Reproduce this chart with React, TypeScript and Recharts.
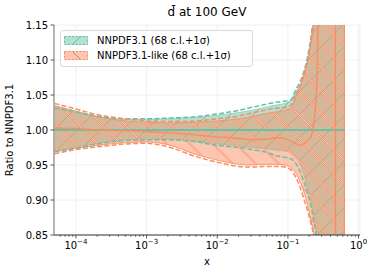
import React from 'react';
import { ComposedChart, Area, Line, XAxis, YAxis, CartesianGrid, Legend, ReferenceLine } from 'recharts';

// x grid (momentum fraction)
const X_VALUES = [5e-5, 1e-4, 2e-4, 5e-4, 1e-3, 2e-3, 5e-3, 1e-2, 2e-2, 3e-2, 5e-2, 7e-2, 0.09, 0.11, 0.13, 0.15, 0.17, 0.19, 0.21, 0.23, 0.26, 0.3, 0.4, 0.46, 0.48, 0.55, 0.63];

// NNPDF3.1 (green)
const G68_HI = [1.031, 1.025, 1.019, 1.015, 1.015, 1.016, 1.018, 1.021, 1.025, 1.028, 1.033, 1.036, 1.038, 1.042, 1.055, 1.065, 1.08, 1.1, 1.125, 1.155, 1.2, 1.4, 1.4, 1.4, 1.4, 1.4, 1.4];
const G68_LO = [0.971, 0.976, 0.981, 0.986, 0.987, 0.987, 0.984, 0.98, 0.977, 0.975, 0.973, 0.971, 0.97, 0.968, 0.962, 0.95, 0.935, 0.915, 0.9, 0.88, 0.84, 0.6, 0.6, 0.6, 0.6, 0.6, 0.6];
const G1S_HI = [1.032, 1.026, 1.02, 1.016, 1.016, 1.017, 1.019, 1.023, 1.028, 1.032, 1.037, 1.04, 1.041, 1.043, 1.058, 1.07, 1.085, 1.105, 1.13, 1.16, 1.21, 1.45, 1.45, 1.45, 1.45, 1.45, 1.45];
const G1S_LO = [0.969, 0.974, 0.98, 0.985, 0.986, 0.986, 0.983, 0.978, 0.975, 0.972, 0.968, 0.963, 0.961, 0.959, 0.952, 0.94, 0.925, 0.91, 0.893, 0.872, 0.83, 0.55, 0.55, 0.55, 0.55, 0.55, 0.55];
const G_CENTRAL = [1, 1, 1, 1, 1, 1, 1, 1, 1, 1, 1, 1, 1, 1, 1, 1, 1, 1, 1, 1, 1, 1, 1, 1, 1, 1, 1];

// NNPDF3.1-like (orange)
const O68_HI = [1.035, 1.027, 1.019, 1.013, 1.011, 1.01, 1.011, 1.013, 1.016, 1.019, 1.024, 1.026, 1.028, 1.031, 1.047, 1.062, 1.078, 1.098, 1.122, 1.15, 1.2, 1.5, 1.5, 1.5, 1.5, 1.5, 1.5];
const O68_LO = [0.969, 0.974, 0.978, 0.982, 0.983, 0.979, 0.965, 0.957, 0.951, 0.95, 0.951, 0.951, 0.95, 0.946, 0.938, 0.925, 0.91, 0.893, 0.873, 0.853, 0.8, 0.5, 0.5, 0.5, 0.5, 0.5, 0.5];
const O1S_HI = [1.038, 1.03, 1.022, 1.016, 1.013, 1.012, 1.013, 1.016, 1.02, 1.024, 1.029, 1.031, 1.032, 1.035, 1.05, 1.065, 1.082, 1.1, 1.125, 1.155, 1.21, 1.55, 1.55, 1.55, 1.55, 1.55, 1.55];
const O1S_LO = [0.966, 0.972, 0.976, 0.98, 0.981, 0.976, 0.962, 0.954, 0.948, 0.947, 0.948, 0.948, 0.947, 0.943, 0.932, 0.917, 0.9, 0.885, 0.868, 0.85, 0.8, 0.45, 0.45, 0.45, 0.45, 0.45, 0.45];
const O_CENTRAL = [1.003, 1.002, 1.0, 0.999, 0.998, 0.996, 0.993, 0.99, 0.988, 0.986, 0.987, 0.989, 0.988, 0.984, 0.98, 0.978, 0.981, 0.985, 0.99, 1.005, 1.08, 1.6, 2, 2, 0, 0, 0];

const MAJOR_TICKS = [1e-4, 1e-3, 1e-2, 1e-1, 1];
const MINOR_TICKS = [
  6e-5, 7e-5, 8e-5, 9e-5,
  2e-4, 3e-4, 4e-4, 5e-4, 6e-4, 7e-4, 8e-4, 9e-4,
  2e-3, 3e-3, 4e-3, 5e-3, 6e-3, 7e-3, 8e-3, 9e-3,
  2e-2, 3e-2, 4e-2, 5e-2, 6e-2, 7e-2, 8e-2, 9e-2,
  0.2, 0.3, 0.4, 0.5, 0.6, 0.7, 0.8, 0.9,
];
const X_TICKS = [...MAJOR_TICKS, ...MINOR_TICKS].sort((a, b) => a - b);
const Y_TICKS = [0.85, 0.9, 0.95, 1.0, 1.05, 1.1, 1.15];
const X_DOMAIN = [Math.pow(10, -4.31), Math.pow(10, 0.02)];

const GREEN = '#66c2a5';
const ORANGE = '#fc8d62';
const FONT = 'DejaVu Sans, Verdana, sans-serif';
const H = 23; // hatch cell size

const data = X_VALUES.map((x, i) => ({
  x,
  g68: [G68_LO[i], G68_HI[i]],
  o68: [O68_LO[i], O68_HI[i]],
  gsHi: G1S_HI[i],
  gsLo: G1S_LO[i],
  osHi: O1S_HI[i],
  osLo: O1S_LO[i],
  gC: G_CENTRAL[i],
  oC: O_CENTRAL[i],
}));

const XTick = (props: any) => {
  const { x, y, payload } = props;
  const v = payload.value;
  const e = Math.log10(v);
  const major = Math.abs(e - Math.round(e)) < 1e-6;
  if (!major) {
    return <line x1={x} x2={x} y1={y} y2={y + 2} stroke="#333" strokeWidth={0.6} />;
  }
  const exp = Math.round(e);
  return (
    <g>
      <line x1={x} x2={x} y1={y} y2={y + 3.5} stroke="#333" strokeWidth={0.8} />
      <text x={x} y={y + 13.5} textAnchor="middle" fontSize={10} fontFamily={FONT} fill="#000">
        <tspan>10</tspan>
        <tspan dy={-4.5} fontSize={7}>{exp === 0 ? '0' : '\u2212' + Math.abs(exp)}</tspan>
      </text>
    </g>
  );
};

const Swatch = ({ color, dir }: { color: string; dir: number }) => (
  <svg width={24} height={9} style={{ display: 'block' }}>
    <rect x={0.5} y={0.5} width={23} height={8} fill={color} fillOpacity={0.5} stroke={color} strokeWidth={1} strokeDasharray="2.5 1.2" />
    {dir > 0 ? (
      <line x1={9} y1={8} x2={16} y2={1} stroke="#8a9a90" strokeWidth={0.8} />
    ) : (
      <line x1={9} y1={1} x2={16} y2={8} stroke="#9a8070" strokeWidth={0.8} />
    )}
  </svg>
);

const LegendBox = () => (
  <div
    style={{
      position: 'relative',
      width: 193,
      height: 37,
      boxSizing: 'border-box',
      border: '1px solid #d9d9d9',
      borderRadius: 3,
      background: 'rgba(255,255,255,0.8)',
      fontFamily: FONT,
      fontSize: 10,
      color: '#000',
    }}
  >
    <div style={{ position: 'absolute', left: 3, top: 5 }}>
      <Swatch color={GREEN} dir={1} />
    </div>
    <div style={{ position: 'absolute', left: 36, top: 3, lineHeight: '13px', whiteSpace: 'nowrap' }}>NNPDF3.1 (68 c.l.+1σ)</div>
    <div style={{ position: 'absolute', left: 3, top: 20 }}>
      <Swatch color={ORANGE} dir={-1} />
    </div>
    <div style={{ position: 'absolute', left: 36, top: 18, lineHeight: '13px', whiteSpace: 'nowrap' }}>NNPDF3.1-like (68 c.l.+1σ)</div>
  </div>
);

const fwd = `M-1,1 L1,-1 M0,${H} L${H},0 M${H - 1},${H + 1} L${H + 1},${H - 1}`;
const back = `M-1,${H - 1} L1,${H + 1} M0,0 L${H},${H} M${H - 1},-1 L${H + 1},1`;

export default function App() {
  return (
    <div style={{ position: 'absolute', left: 0, top: 0, width: 374, height: 276, background: '#fff', overflow: 'hidden' }}>
      <svg width={0} height={0} style={{ position: 'absolute' }}>
        <defs>
          <pattern id="hatchG" patternUnits="userSpaceOnUse" width={H} height={H}>
            <rect width={H} height={H} fill={GREEN} fillOpacity={0.5} />
            <path d={fwd} stroke="#8f9c88" strokeWidth={0.7} />
          </pattern>
          <pattern id="hatchO" patternUnits="userSpaceOnUse" width={H} height={H}>
            <rect width={H} height={H} fill={ORANGE} fillOpacity={0.5} />
            <path d={back} stroke={ORANGE} strokeWidth={1.6} />
            <path d={back} stroke="#ffe9df" strokeWidth={0.6} />
          </pattern>
        </defs>
      </svg>
      <div style={{ position: 'absolute', left: 0, width: 414, top: 5, textAlign: 'center', fontFamily: FONT, fontSize: 12, lineHeight: '14px', color: '#000' }}>
        d̄ at 100 GeV
      </div>
      <div style={{ position: 'absolute', left: 0, width: 414, top: 255, textAlign: 'center', fontFamily: FONT, fontSize: 10, lineHeight: '13px', color: '#000' }}>
        x
      </div>
      <ComposedChart width={374} height={276} data={data} margin={{ top: 25, right: 14, left: 14, bottom: 0 }}>
        <CartesianGrid xAxisId="grid" stroke="#ececec" strokeWidth={0.8} />
        <XAxis
          xAxisId="grid"
          dataKey="x"
          type="number"
          scale="log"
          domain={X_DOMAIN}
          allowDataOverflow
          ticks={MAJOR_TICKS}
          hide
        />
        <XAxis
          dataKey="x"
          type="number"
          scale="log"
          domain={X_DOMAIN}
          allowDataOverflow
          ticks={X_TICKS}
          interval={0}
          minTickGap={0}
          tickSize={0}
          tickMargin={0}
          tickLine={false}
          tick={<XTick />}
          height={41}
          axisLine={{ stroke: '#333', strokeWidth: 1 }}
        />
        <YAxis
          type="number"
          domain={[0.85, 1.15]}
          allowDataOverflow
          ticks={Y_TICKS}
          tickFormatter={(v: number) => v.toFixed(2)}
          width={40}
          tickSize={3.5}
          tickMargin={2.5}
          tick={{ fontSize: 10, fontFamily: FONT, fill: '#000' }}
          tickLine={{ stroke: '#333', strokeWidth: 0.8 }}
          axisLine={{ stroke: '#888', strokeWidth: 1.2 }}
          label={() => (
            <text transform="translate(13,130) rotate(-90)" textAnchor="middle" fontSize={10} fontFamily={FONT} fill="#000">
              Ratio to NNPDF3.1
            </text>
          )}
        />
        <Area dataKey="g68" type="monotoneX" stroke={GREEN} strokeWidth={0.8} strokeOpacity={0.7} fill="url(#hatchG)" fillOpacity={1} isAnimationActive={false} dot={false} activeDot={false} />
        <Area dataKey="o68" type="monotoneX" stroke={ORANGE} strokeWidth={1} strokeOpacity={0.9} fill="url(#hatchO)" fillOpacity={1} isAnimationActive={false} dot={false} activeDot={false} />
        <ReferenceLine x={X_VALUES[X_VALUES.length - 1]} stroke={ORANGE} strokeWidth={1.2} />
        <Line dataKey="gsHi" type="monotoneX" stroke={GREEN} strokeWidth={1.5} strokeDasharray="5 2.2" dot={false} activeDot={false} isAnimationActive={false} />
        <Line dataKey="gsLo" type="monotoneX" stroke={GREEN} strokeWidth={1.5} strokeDasharray="5 2.2" dot={false} activeDot={false} isAnimationActive={false} />
        <Line dataKey="osHi" type="monotoneX" stroke={ORANGE} strokeWidth={1.5} strokeDasharray="5 2.2" dot={false} activeDot={false} isAnimationActive={false} />
        <Line dataKey="osLo" type="monotoneX" stroke={ORANGE} strokeWidth={1.5} strokeDasharray="5 2.2" dot={false} activeDot={false} isAnimationActive={false} />
        <Line dataKey="gC" type="linear" stroke={GREEN} strokeWidth={2} dot={false} activeDot={false} isAnimationActive={false} />
        <Line dataKey="oC" type="monotoneX" stroke={ORANGE} strokeWidth={1.5} dot={false} activeDot={false} isAnimationActive={false} />
        <Legend
          layout="horizontal"
          verticalAlign="middle"
          align="center"
          content={() => <LegendBox />}
          wrapperStyle={{ position: 'absolute', left: 60, top: 30, width: 193, height: 37 }}
        />
      </ComposedChart>
    </div>
  );
}
